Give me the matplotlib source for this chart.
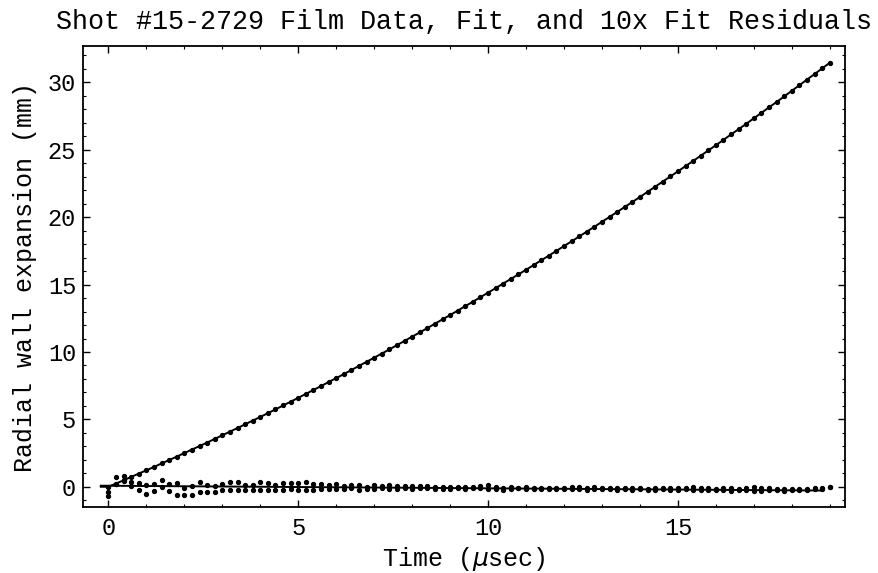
import matplotlib
matplotlib.use("Agg")
import matplotlib.pyplot as plt
from matplotlib.ticker import MultipleLocator

plt.rcParams['font.family'] = ['Liberation Mono', 'DejaVu Sans Mono']
plt.rcParams['mathtext.fontset'] = 'dejavusans'

# film frame times (usec)
times = [0.0, 0.2, 0.4, 0.6, 0.8, 1.0, 1.2, 1.4, 1.6, 1.8,
         2.0, 2.2, 2.4, 2.6, 2.8, 3.0, 3.2, 3.4, 3.6, 3.8,
         4.0, 4.2, 4.4, 4.6, 4.8, 5.0, 5.2, 5.4, 5.6, 5.8,
         6.0, 6.2, 6.4, 6.6, 6.8, 7.0, 7.2, 7.4, 7.6, 7.8,
         8.0, 8.2, 8.4, 8.6, 8.8, 9.0, 9.2, 9.4, 9.6, 9.8,
         10.0, 10.2, 10.4, 10.6, 10.8, 11.0, 11.2, 11.4, 11.6, 11.8,
         12.0, 12.2, 12.4, 12.6, 12.8, 13.0, 13.2, 13.4, 13.6, 13.8,
         14.0, 14.2, 14.4, 14.6, 14.8, 15.0, 15.2, 15.4, 15.6, 15.8,
         16.0, 16.2, 16.4, 16.6, 16.8, 17.0, 17.2, 17.4, 17.6, 17.8,
         18.0, 18.2, 18.4, 18.6, 18.8, 19.0]

# radial wall expansion (mm)
expansion = [0.00, 0.24, 0.48, 0.73, 0.98, 1.22, 1.47, 1.73, 1.98, 2.24,
             2.50, 2.76, 3.02, 3.28, 3.55, 3.82, 4.09, 4.36, 4.63, 4.91,
             5.18, 5.46, 5.74, 6.03, 6.31, 6.60, 6.89, 7.18, 7.47, 7.77,
             8.06, 8.36, 8.66, 8.97, 9.27, 9.58, 9.88, 10.19, 10.51, 10.82,
             11.14, 11.45, 11.77, 12.10, 12.42, 12.74, 13.07, 13.40, 13.73, 14.07,
             14.40, 14.74, 15.08, 15.42, 15.76, 16.10, 16.45, 16.80, 17.15, 17.50,
             17.86, 18.21, 18.57, 18.93, 19.29, 19.66, 20.02, 20.39, 20.76, 21.13,
             21.50, 21.88, 22.26, 22.64, 23.02, 23.40, 23.79, 24.17, 24.56, 24.95,
             25.34, 25.74, 26.14, 26.53, 26.93, 27.34, 27.74, 28.15, 28.55, 28.96,
             29.38, 29.79, 30.21, 30.62, 31.04, 31.46]

# fit curve (starts just before the first frame)
fit_start = (-0.2, 0.0)

# 10x fit residuals, two tracks per frame
resid_upper = [-0.38, 0.73, 0.78, 0.36, 0.28, 0.10, 0.23, 0.48, 0.23, 0.28,
               -0.06, 0.05, 0.36, 0.10, 0.04, 0.23, 0.36, 0.36, 0.15, 0.10,
               0.36, 0.28, 0.12, 0.28, 0.28, 0.28, 0.36, 0.20, 0.18, 0.10,
               0.20, 0.05, 0.15, 0.12, 0.02, 0.14, 0.08, 0.10, 0.06, 0.08,
               0.04, 0.05, 0.06, 0.00, -0.02, 0.00, -0.04, 0.02, -0.02, 0.06,
               0.10, -0.04, -0.08, -0.02, -0.06, -0.04, -0.08, -0.10, -0.08, -0.06,
               -0.10, -0.04, -0.02, -0.06, 0.02, -0.08, -0.10, -0.08, -0.12, -0.06,
               -0.10, -0.14, -0.08, -0.10, -0.06, -0.12, -0.08, -0.04, -0.12, -0.10,
               -0.14, -0.12, -0.08, -0.14, -0.06, -0.04, -0.10, -0.12, -0.16, -0.14,
               -0.18, -0.16, -0.14, -0.12, -0.10, 0.00]
resid_lower = [-0.70, 0.23, 0.40, 0.05, -0.21, -0.56, -0.31, -0.05, -0.31, -0.58,
               -0.58, -0.58, -0.38, -0.38, -0.38, -0.21, -0.26, -0.21, -0.21, -0.21,
               -0.26, -0.21, -0.21, -0.21, -0.15, -0.26, -0.21, -0.22, -0.20, -0.18,
               -0.15, -0.20, -0.12, -0.22, -0.15, -0.18, -0.12, -0.20, -0.14, -0.10,
               -0.16, -0.10, -0.12, -0.18, -0.20, -0.14, -0.12, -0.16, -0.10, -0.12,
               -0.14, -0.16, -0.24, -0.16, -0.12, -0.14, -0.16, -0.18, -0.20, -0.16,
               -0.20, -0.18, -0.16, -0.22, -0.14, -0.20, -0.18, -0.22, -0.20, -0.24,
               -0.18, -0.26, -0.22, -0.20, -0.24, -0.22, -0.20, -0.26, -0.22, -0.24,
               -0.26, -0.22, -0.28, -0.24, -0.22, -0.28, -0.30, -0.26, -0.24, -0.28,
               -0.26, -0.24, -0.22, -0.20, -0.18, -0.05]

# residual trend line endpoints
resid_line_t = [-0.2, 18.8]
resid_line_v = [0.08, -0.28]

fig = plt.figure(figsize=(8.79, 5.73), dpi=100)
ax = fig.add_axes([0.0944, 0.1152, 0.8669, 0.8045])

fit_t = [fit_start[0]] + times
fit_v = [fit_start[1]] + expansion
ax.plot(fit_t, fit_v, color='black', lw=1.4, zorder=2)
ax.plot(times, expansion, 'o', color='black', ms=2.8, zorder=3)

ax.plot(resid_line_t, resid_line_v, color='black', lw=1.4, zorder=2)
ax.plot(times, resid_upper, 'o', color='black', ms=2.8, zorder=3)
ax.plot(times, resid_lower, 'o', color='black', ms=2.8, zorder=3)

ax.set_xlim(-0.67, 19.4)
ax.set_ylim(-1.5, 32.7)

ax.xaxis.set_major_locator(MultipleLocator(5))
ax.xaxis.set_minor_locator(MultipleLocator(1))
ax.yaxis.set_major_locator(MultipleLocator(5))
ax.yaxis.set_minor_locator(MultipleLocator(1))
ax.tick_params(which='both', direction='in', top=True, right=True,
               colors='black', labelsize=17)
ax.tick_params(which='major', length=5, width=1.0)
ax.tick_params(which='minor', length=2.5, width=0.8)
ax.tick_params(axis='x', pad=7)
ax.tick_params(axis='y', pad=5)
for s in ax.spines.values():
    s.set_linewidth(1.3)

ax.set_xlabel('Time ($\\mu$sec)', fontsize=18, labelpad=4)
ax.set_ylabel('Radial wall expansion (mm)', fontsize=18, labelpad=8)
ax.set_title('Shot #15-2729 Film Data, Fit, and 10x Fit Residuals',
             fontsize=19.3, pad=12)

fig.savefig('out.png', dpi=100)
